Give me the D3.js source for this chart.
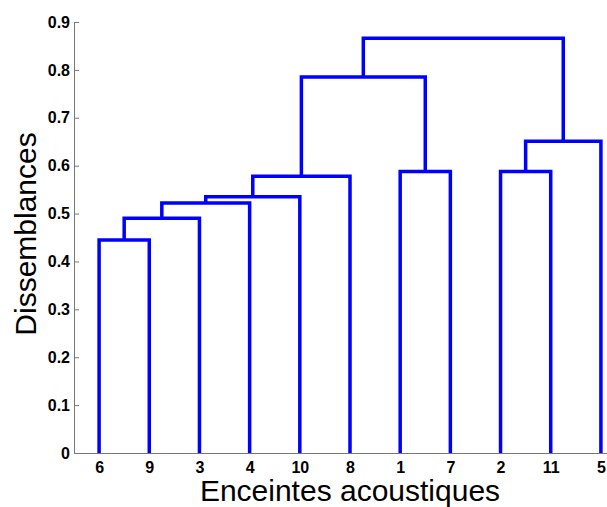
<!DOCTYPE html>
<html>
<head>
<meta charset="utf-8">
<script src="https://cdn.jsdelivr.net/npm/d3@7"></script>
<style>
  body { margin: 0; background: #fff; }
  svg { display: block; font-family: "Liberation Sans", Arial, sans-serif; }
</style>
</head>
<body>
<div id="chart"></div>
<script>
// leaves in the order they appear along the x axis
const leafLabels = ["6", "9", "3", "4", "10", "8", "1", "7", "2", "11", "5"];

// each merge joins node A and node B at a given height (cN = Nth merge)
const mergeA = ["6", "c1", "c2", "c3", "c4", "1", "c5", "2", "c8", "c7"];
const mergeB = ["9", "3", "4", "10", "8", "7", "c6", "11", "5", "c9"];
const mergeHeights = [0.445, 0.490, 0.522, 0.535, 0.578, 0.588, 0.785, 0.588, 0.651, 0.866];

const yTicks = [0, 0.1, 0.2, 0.3, 0.4, 0.5, 0.6, 0.7, 0.8, 0.9];

const W = 607, H = 507;
const plotLeft = 74, plotRight = 626, plotTop = 22, plotBottom = 453;

const svg = d3.select("#chart")
    .append("svg")
    .attr("width", W)
    .attr("height", H);

const x = d3.scalePoint()
    .domain(leafLabels)
    .range([plotLeft, plotRight])
    .padding(0.5);

const y = d3.scaleLinear()
    .domain([0, 0.9])
    .range([plotBottom, plotTop]);

// axes
const yAxis = svg.append("g")
    .attr("transform", `translate(${plotLeft},0)`)
    .call(d3.axisLeft(y)
        .tickValues(yTicks)
        .tickSizeInner(-5)
        .tickSizeOuter(0)
        .tickPadding(4)
        .tickFormat(d => d === 0 ? "0" : d3.format(".1f")(d)));

yAxis.select(".domain").attr("stroke", "#777");
yAxis.selectAll(".tick line").attr("stroke", "#777");
yAxis.selectAll(".tick text")
    .attr("fill", "#000")
    .style("font-size", "16px")
    .style("font-weight", "bold")
    .style("font-family", "'Liberation Sans', Arial, sans-serif");

const xAxis = svg.append("g")
    .attr("transform", `translate(0,${plotBottom})`)
    .call(d3.axisBottom(x)
        .tickSize(0)
        .tickPadding(9));

xAxis.select(".domain").attr("stroke", "#777");
xAxis.selectAll(".tick text")
    .attr("fill", "#000")
    .style("font-size", "16px")
    .style("font-weight", "bold")
    .style("font-family", "'Liberation Sans', Arial, sans-serif");

// build the dendrogram links
const nodes = {};
leafLabels.forEach(l => { nodes[l] = { x: x(l), h: 0 }; });

const links = [];
mergeHeights.forEach((h, i) => {
    const a = nodes[mergeA[i]], b = nodes[mergeB[i]];
    links.push({ a: a, b: b, h: h });
    nodes["c" + (i + 1)] = { x: (a.x + b.x) / 2, h: h };
});

svg.append("g")
    .selectAll("path")
    .data(links)
    .join("path")
    .attr("d", d => `M${d.a.x},${y(d.a.h)}V${y(d.h)}H${d.b.x}V${y(d.b.h)}`)
    .attr("fill", "none")
    .attr("stroke", "#0000ff")
    .attr("stroke-width", 3.5);

// axis titles
svg.append("text")
    .attr("x", (plotLeft + plotRight) / 2)
    .attr("y", 501)
    .attr("text-anchor", "middle")
    .style("font-size", "30px")
    .text("Enceintes acoustiques");

svg.append("text")
    .attr("transform", "translate(36,234) rotate(-90)")
    .attr("text-anchor", "middle")
    .style("font-size", "30px")
    .text("Dissemblances");
</script>
</body>
</html>
